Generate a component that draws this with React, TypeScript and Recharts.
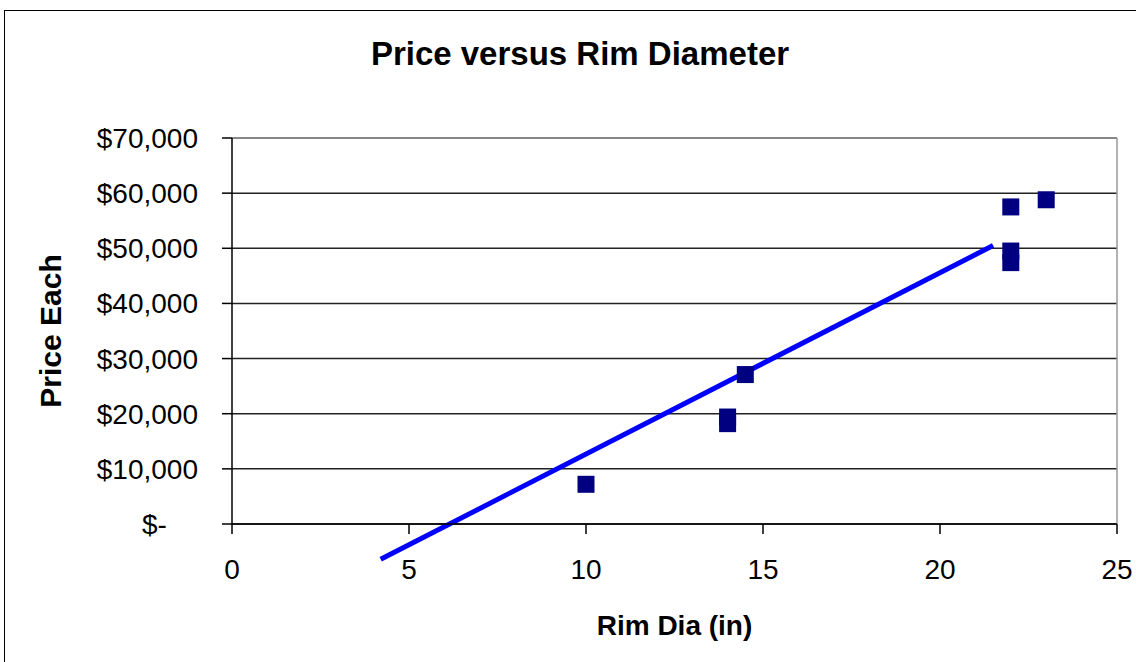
import {
  ScatterChart,
  Scatter,
  XAxis,
  YAxis,
  CartesianGrid,
  ReferenceLine,
  Label,
} from "recharts";

// rim diameter (in) and price of each wheel
const rimDia = [10, 14, 14, 14.5, 22, 22, 22, 23];
const priceEach = [7200, 19400, 18200, 27100, 57500, 49500, 47400, 58800];

// trend line end points as drawn
const trendX = [4.2, 21.5];
const trendY = [-6400, 50500];

const xTicks = [0, 5, 10, 15, 20, 25];
const yTicks = [0, 10000, 20000, 30000, 40000, 50000, 60000, 70000];

const points = rimDia.map((x, i) => ({ x, y: priceEach[i] }));
const trend = trendX.map((x, i) => ({ x, y: trendY[i] }));

const font = "'Liberation Sans', Arial, sans-serif";

const money = (v: number) =>
  v === 0 ? "$-\u00A0\u00A0\u00A0\u00A0" : "$" + v.toLocaleString("en-US");

const Square = (props: any) => {
  const { cx, cy } = props;
  return <rect x={cx - 8.5} y={cy - 8.5} width={17} height={17} fill="#000080" />;
};

export default function App() {
  return (
    <div
      style={{
        position: "absolute",
        left: 0,
        top: 0,
        width: 1136,
        height: 662,
        overflow: "hidden",
        background: "#fff",
        fontFamily: font,
      }}
    >
      <div
        style={{
          position: "absolute",
          left: 4,
          top: 10,
          width: 1150,
          height: 680,
          border: "1.5px solid #000",
        }}
      />
      <div
        style={{
          position: "absolute",
          left: 0,
          width: 1160,
          top: 35,
          textAlign: "center",
          fontWeight: "bold",
          fontSize: 33,
          color: "#000",
        }}
      >
        Price versus Rim Diameter
      </div>
      <div style={{ position: "absolute", left: 0, top: 0 }}>
        <ScatterChart
          width={1136}
          height={662}
          margin={{ top: 138, right: 19, bottom: 0, left: 0 }}
        >
          <CartesianGrid vertical={false} stroke="#222" strokeWidth={1.5} />
          <XAxis
            type="number"
            dataKey="x"
            domain={[0, 25]}
            ticks={xTicks}
            height={138}
            stroke="#000"
            strokeWidth={1.5}
            tickSize={10}
            tickMargin={25}
            tick={{ fill: "#000", fontSize: 28, fontFamily: font }}
          >
            <Label
              value="Rim Dia (in)"
              position="center"
              dy={32}
              style={{ fontWeight: "bold", fontSize: 28, fill: "#000", fontFamily: font }}
            />
          </XAxis>
          <YAxis
            type="number"
            dataKey="y"
            domain={[0, 70000]}
            ticks={yTicks}
            width={232}
            stroke="#000"
            strokeWidth={1.5}
            tickSize={10}
            tickMargin={24}
            tickFormatter={money}
            tick={{ fill: "#000", fontSize: 28, fontFamily: font }}
          >
            <Label
              value="Price Each"
              angle={-90}
              position="center"
              dx={-66}
              style={{ fontWeight: "bold", fontSize: 30, fill: "#000", fontFamily: font }}
            />
          </YAxis>
          <ReferenceLine y={70000} stroke="#999" strokeWidth={1.5} />
          <ReferenceLine x={25} stroke="#999" strokeWidth={1.5} />
          <Scatter
            data={points}
            fill="#000080"
            shape={Square}
            isAnimationActive={false}
          />
          <ReferenceLine
            segment={trend}
            stroke="#0000FF"
            strokeWidth={5}
            ifOverflow="visible"
          />
        </ScatterChart>
      </div>
    </div>
  );
}
